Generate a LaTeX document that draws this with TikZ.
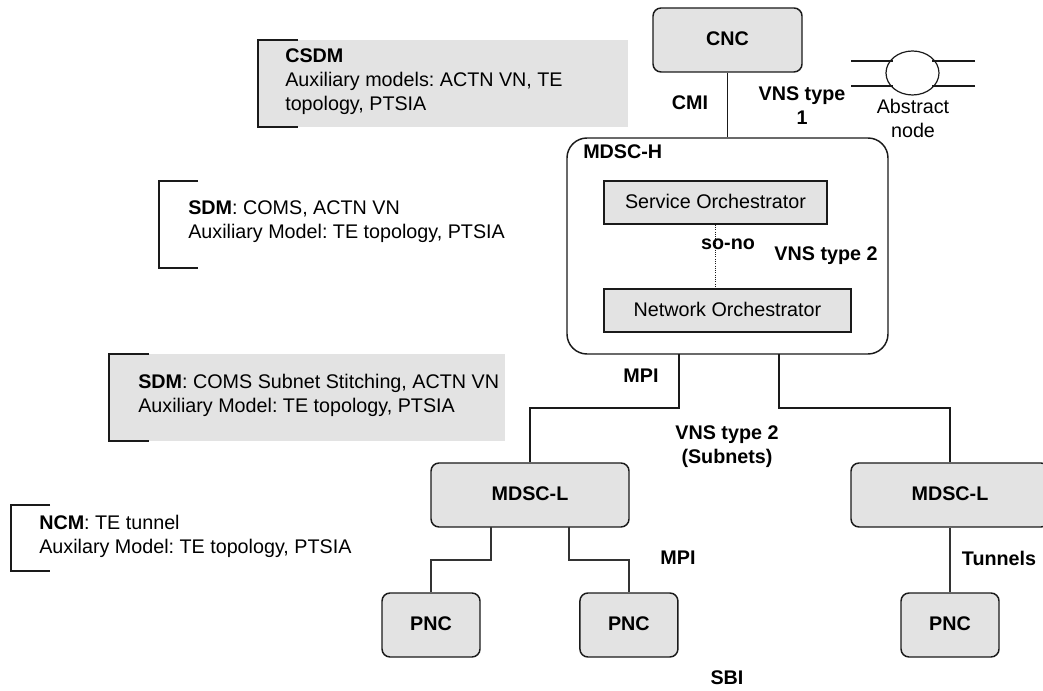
\documentclass[tikz,border=0pt]{standalone}
\usepackage{fontspec}
\setmainfont{Liberation Sans}
\usetikzlibrary{shapes.geometric}
\newcommand{\pxu}{0.75pt}
\definecolor{boxgray}{HTML}{E3E3E3}
\definecolor{linegray}{HTML}{1A1A1A}
\definecolor{lowline}{HTML}{333333}
\tikzset{
  every node/.style={font=\fontsize{14.8}{18}\selectfont\frenchspacing},
  box/.style={draw=linegray,line width=1.1pt,fill=boxgray,inner sep=0pt,font=\fontsize{14.8}{18}\selectfont\bfseries},
  rbox/.style={box,rounded corners=6pt,text height=11pt,text depth=3pt},
  sqbox/.style={box,font=\fontsize{14.8}{18}\selectfont},
  conn/.style={draw=linegray,line width=0.85pt},
  lowconn/.style={draw=lowline,line width=1.1pt},
  bracket/.style={draw=linegray,line width=0.9pt},
  graypanel/.style={fill=boxgray,draw=none,inner sep=0pt},
  note/.style={anchor=west,inner sep=0pt,align=left},
  lbl/.style={inner sep=0pt,align=center,font=\fontsize{14.8}{18}\selectfont\bfseries},
}
\begin{document}
\begin{tikzpicture}[x=\pxu,y=-\pxu]
\useasboundingbox (0,0) rectangle (1043,691);
\clip (0,0) rectangle (1043,691);
% gray panels
\node[graypanel,minimum width=370*\pxu,minimum height=87*\pxu] (panelA) at (443,83.5) {};
\node[graypanel,minimum width=396*\pxu,minimum height=87*\pxu] (panelB) at (307,397.5) {};
% brackets
\draw[bracket] (298,40) -- (258,40) -- (258,127) -- (298,127);
\draw[bracket] (198,181) -- (159,181) -- (159,268) -- (198,268);
\draw[bracket] (149,354) -- (109,354) -- (109,441) -- (149,441);
\draw[bracket] (50,505) -- (11,505) -- (11,571) -- (50,571);
% notes
\node[note] (csdm) at (285,82) {\textbf{CSDM}\\Auxiliary models: ACTN VN, TE\\topology, PTSIA};
\node[note] (sdma) at (188,221.5) {\textbf{SDM}: COMS, ACTN VN\\Auxiliary Model: TE topology, PTSIA};
\node[note] (sdmb) at (138,395.5) {\textbf{SDM}: COMS Subnet Stitching, ACTN VN\\Auxiliary Model: TE topology, PTSIA};
\node[note] (ncm) at (39,536.5) {\textbf{NCM}: TE tunnel\\Auxilary Model: TE topology, PTSIA};
% main boxes
\node[rbox,minimum width=149*\pxu,minimum height=64*\pxu] (cnc) at (727.5,40) {CNC};
\node[draw=linegray,line width=1.1pt,fill=white,rounded corners=15pt,inner sep=0pt,minimum width=321*\pxu,minimum height=216*\pxu] (mdsch) at (727.5,246) {};
\node[sqbox,minimum width=223*\pxu,minimum height=43*\pxu] (so) at (715.5,202.5) {\raisebox{1pt}{Service Orchestrator}};
\node[sqbox,minimum width=247*\pxu,minimum height=43*\pxu] (no) at (727.5,310.5) {\raisebox{1pt}{Network Orchestrator}};
\node[rbox,minimum width=198*\pxu,minimum height=64*\pxu] (ml) at (530,495) {MDSC-L};
\node[rbox,minimum width=198*\pxu,minimum height=64*\pxu] (mr) at (950,495) {MDSC-L};
\node[rbox,minimum width=98*\pxu,minimum height=64*\pxu] (p1) at (431,625) {PNC};
\node[rbox,minimum width=98*\pxu,minimum height=64*\pxu] (p2) at (628.9,625) {PNC};
\node[rbox,minimum width=98*\pxu,minimum height=64*\pxu] (p3) at (950,625) {PNC};
% connectors
\draw[conn] (cnc.south) -- (mdsch.north);
\draw[draw=linegray,line width=0.7pt,densely dotted] (so.south) -- (so.south |- no.north);
\coordinate (hl) at (679,354);
\coordinate (hr) at (779,354);
\coordinate (ll) at (491,527);
\coordinate (lr) at (569,527);
\draw[conn] (hl) -- (679,408) -- (ml.north |- 0,408) -- (ml.north);
\draw[conn] (hr) -- (779,408) -- (mr.north |- 0,408) -- (mr.north);
\draw[lowconn] (ll) -- (491,560) -- (p1.north |- 0,560) -- (p1.north);
\draw[lowconn] (lr) -- (569,560) -- (p2.north |- 0,560) -- (p2.north);
\draw[lowconn] (mr.south) -- (p3.north);
% abstract node
\node[draw=linegray,line width=0.9pt,ellipse,inner sep=0pt,minimum width=53*\pxu,minimum height=44*\pxu] (abs) at (912.5,73) {};
\coordinate (a1) at (851,61);
\coordinate (a2) at (851,86);
\coordinate (a3) at (975,61);
\coordinate (a4) at (975,86);
\draw[conn] (a1) -- (abs.north west |- a1) ;
\draw[conn] (a2) -- (abs.south west |- a2);
\draw[conn] (a3) -- (abs.north east |- a3);
\draw[conn] (a4) -- (abs.south east |- a4);
\node[inner sep=0pt,align=center] (abslbl) at (913,118.5) {Abstract\\node};
% labels
\node[lbl] (cmi) at (690,102.5) {CMI};
\node[lbl] (vns1) at (802,105.5) {VNS type\\1};
\node[lbl,anchor=west] (hlbl) at (583,152) {MDSC-H};
\node[lbl] (sono) at (728,244.5) {so-no};
\node[lbl] (vns2) at (826,256) {VNS type 2};
\node[lbl] (mpia) at (641,375.5) {MPI};
\node[lbl] (vnss) at (727,447) {VNS type 2\\(Subnets)};
\node[lbl] (mpib) at (678,557.5) {MPI};
\node[lbl] (tun) at (999,558) {Tunnels};
\node[lbl] (sbi) at (727,678) {SBI};
\end{tikzpicture}
\end{document}
